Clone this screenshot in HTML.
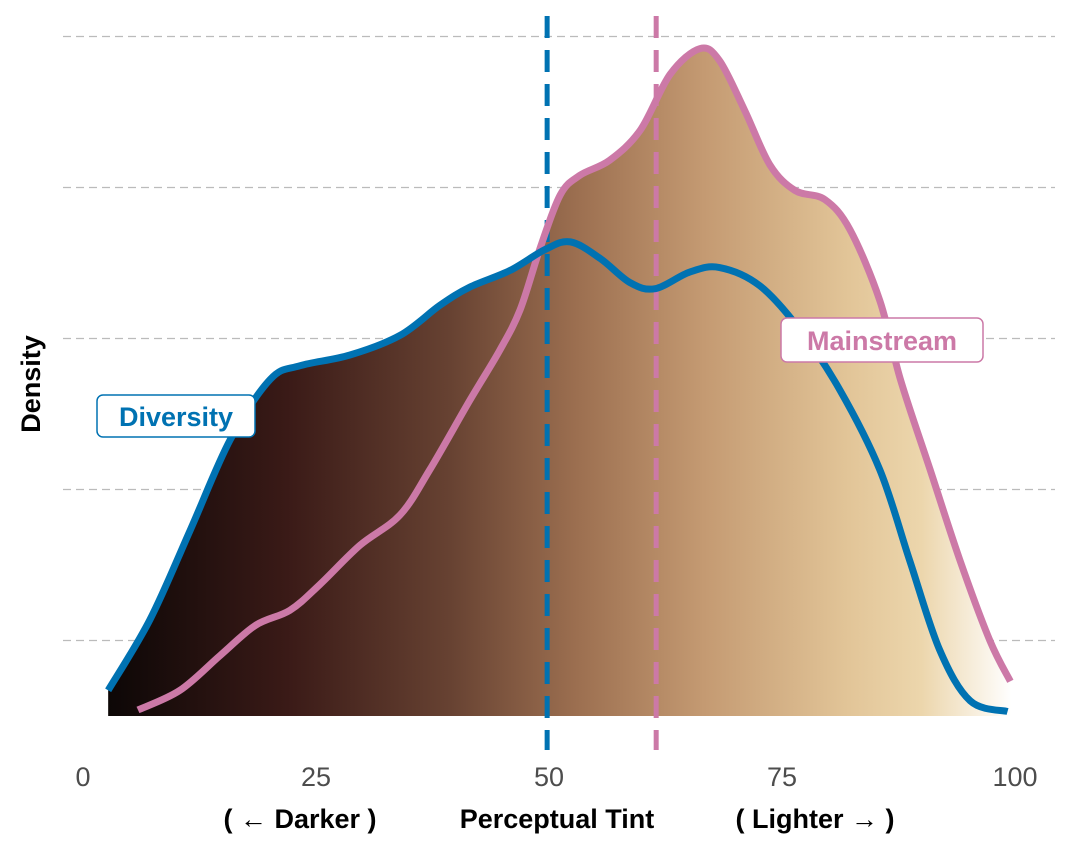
<!DOCTYPE html>
<html><head><meta charset="utf-8"><style>
body{margin:0;background:#fff;font-family:"Liberation Sans",sans-serif}
svg{display:block}
</style></head><body>
<svg width="1071" height="857" viewBox="0 0 1071 857">
<defs>
<linearGradient id="tint" gradientUnits="userSpaceOnUse" x1="106" y1="0" x2="1012" y2="0">
<stop offset="0" stop-color="#0c0706"/>
<stop offset="0.2" stop-color="#3a1a17"/>
<stop offset="0.38" stop-color="#674232"/>
<stop offset="0.52" stop-color="#9c6f50"/>
<stop offset="0.66" stop-color="#c49a72"/>
<stop offset="0.82" stop-color="#e2c598"/>
<stop offset="0.9" stop-color="#ecd6ac"/>
<stop offset="1" stop-color="#ffffff"/>
</linearGradient>
</defs>
<g id="grid"></g>
<g id="fills"></g>
<g id="lines"></g>
<g id="axis"></g>
<text x="40" y="384" transform="rotate(-90 40 384)" text-anchor="middle" font-size="27" font-weight="bold" fill="#000">Density</text>
<text x="560" y="828" text-anchor="middle" font-size="27" font-weight="bold" fill="#000"><tspan x="300">( ← Darker )</tspan><tspan x="557">Perceptual Tint</tspan><tspan x="815">( Lighter → )</tspan></text>
<g>
<rect x="97" y="395" width="158" height="42" rx="6" fill="#fff" stroke="#0072b2" stroke-width="1.5"/>
<text x="176" y="426" text-anchor="middle" font-size="27" font-weight="bold" fill="#0072b2">Diversity</text>
</g>
<g>
<rect x="781" y="318" width="202" height="44" rx="6" fill="#fff" stroke="#cc79a7" stroke-width="1.5"/>
<text x="882" y="350" text-anchor="middle" font-size="27" font-weight="bold" fill="#cc79a7">Mainstream</text>
</g>
</svg>
<script>
const blueX=[2.7,7.2,11.5,15.8,20.1,23.3,28.6,34.0,38.3,41.5,45.8,49.6,52.3,55.5,58.7,61.4,65.1,68.3,72.6,76.9,81.2,85.5,88.7,91.9,95.2,99.2];
const blueY=[0.17,0.64,1.23,1.83,2.23,2.32,2.39,2.52,2.72,2.84,2.95,3.09,3.14,3.03,2.87,2.83,2.94,2.97,2.85,2.56,2.16,1.63,1.03,0.44,0.10,0.03];
const pinkX=[5.9,10.4,14.7,18.5,22.2,25.4,29.7,34.0,37.2,41.5,44.7,46.9,49.0,51.2,53.3,56.5,59.8,63.0,66.2,68.3,71.0,73.7,76.4,79.6,82.3,85.5,87.7,90.9,94.1,97.3,99.5];
const pinkY=[0.04,0.17,0.40,0.60,0.70,0.87,1.13,1.33,1.63,2.09,2.42,2.69,3.09,3.45,3.58,3.68,3.88,4.25,4.42,4.34,4.01,3.65,3.48,3.42,3.22,2.75,2.23,1.63,1.03,0.50,0.23];
const means=[49.8,61.5];
const xTicks=[0,25,50,75,100];
const gridVals=[0.5,1.5,2.5,3.5,4.5];
const sx=v=>83+v*9.32;
const sy=v=>716-v*151;
const NS="http://www.w3.org/2000/svg";
function mk(tag,attrs,parent){const e=document.createElementNS(NS,tag);for(const k in attrs)e.setAttribute(k,attrs[k]);parent.appendChild(e);return e;}
function smooth(xs,ys){const p=xs.map((x,i)=>[sx(x),sy(ys[i])]);let d="M"+p[0][0]+","+p[0][1];
for(let i=0;i<p.length-1;i++){const p0=p[i-1]||p[i],p1=p[i],p2=p[i+1],p3=p[i+2]||p2;
d+=" C"+(p1[0]+(p2[0]-p0[0])/6)+","+(p1[1]+(p2[1]-p0[1])/6)+" "+(p2[0]-(p3[0]-p1[0])/6)+","+(p2[1]-(p3[1]-p1[1])/6)+" "+p2[0]+","+p2[1];}return d;}
const grid=document.getElementById('grid');
gridVals.forEach(g=>{const l=mk('line',{x1:63,x2:1055,y1:sy(g),y2:sy(g),stroke:'#bbb','stroke-width':1.2,'stroke-dasharray':'8,5'},grid);

});
const fills=document.getElementById('fills');
const bd=smooth(blueX,blueY),pd=smooth(pinkX,pinkY);
const f1=mk('path',{d:bd+" L"+sx(blueX[blueX.length-1])+",716 L"+sx(blueX[0])+",716 Z",fill:'url(#tint)'},fills);


const f2=mk('path',{d:pd+" L"+sx(pinkX[pinkX.length-1])+",716 L"+sx(pinkX[0])+",716 Z",fill:'url(#tint)'},fills);


const lines=document.getElementById('lines');
const ml1=mk('line',{x1:sx(means[0]),x2:sx(means[0]),y1:16,y2:750,stroke:'#0072b2','stroke-width':5,'stroke-dasharray':'22,12'},lines);


const ml2=mk('line',{x1:sx(means[1]),x2:sx(means[1]),y1:16,y2:750,stroke:'#cc79a7','stroke-width':5,'stroke-dasharray':'22,12'},lines);


const pl=mk('path',{d:pd,fill:'none',stroke:'#cc79a7','stroke-width':7,'stroke-linejoin':'round'},lines);


const bl=mk('path',{d:bd,fill:'none',stroke:'#0072b2','stroke-width':7,'stroke-linejoin':'round'},lines);


const ax=document.getElementById('axis');
xTicks.forEach(t=>{const e=mk('text',{x:sx(t),y:786,'text-anchor':'middle','font-size':27,fill:'#4d4d4d'},ax);e.textContent=t;

});
</script>
</body></html>
